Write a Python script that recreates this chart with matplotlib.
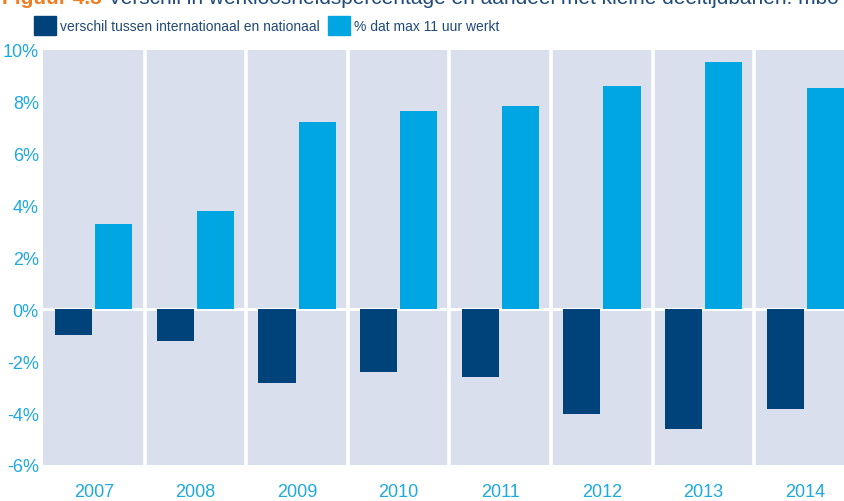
import matplotlib
matplotlib.use("Agg")
import matplotlib.pyplot as plt
from matplotlib.patches import Rectangle
import numpy as np

years = ["2007", "2008", "2009", "2010", "2011", "2012", "2013", "2014"]
verschil = [-1.0, -1.2, -2.83, -2.41, -2.60, -4.03, -4.6, -3.83]
max11 = [3.31, 3.8, 7.21, 7.63, 7.83, 8.6, 9.53, 8.52]
series_names = ["verschil tussen internationaal en nationaal", "% dat max 11 uur werkt"]
yticks = [-6, -4, -2, 0, 2, 4, 6, 8, 10]
title_num = "Figuur 4.3"
title_text = "Verschil in werkloosheidspercentage en aandeel met kleine deeltijdbanen: mbo"

DARK = "#00437A"
LIGHT = "#00A6E2"
BG = "#D9DFEC"
TICKC = "#1EA9E1"
TXT = "#1F4A7A"
ORANGE = "#F07D22"

FONT = ["Liberation Sans", "DejaVu Sans"]
plt.rcParams["font.family"] = FONT

W, H = 845, 502
fig = plt.figure(figsize=(W / 100, H / 100), dpi=100)
left, right, top, bottom = 43, 856, 51, 466
ax = fig.add_axes([left / W, 1 - bottom / H, (right - left) / W, (bottom - top) / H])
ax.set_facecolor(BG)

n = len(years)
x = np.arange(n) + 0.5
bw = 0.365
off = 0.197
ax.set_xlim(0, n)
ax.set_ylim(-6, 10)

for b in range(1, n):
    ax.axvline(b, color="white", lw=2.6, zorder=1)
ax.axhline(0, color="white", lw=2.2, zorder=1)

ax.bar(x - off, verschil, width=bw, color=DARK, zorder=2, label=series_names[0])
ax.bar(x + off, max11, width=bw, color=LIGHT, zorder=2, label=series_names[1])

for s in ax.spines.values():
    s.set_visible(False)
ax.set_yticks(yticks)
ax.set_yticklabels([f"{v}%" for v in yticks])
ax.set_xticks(x)
ax.set_xticklabels(years)
ax.tick_params(axis="y", length=0, pad=3, labelsize=13, labelcolor=TICKC)
ax.tick_params(axis="x", length=0, pad=13, labelsize=13, labelcolor=TICKC)

# legend (manual in figure coords)
def fx(px):
    return px / W

def fy(py):
    return 1 - py / H

fig.patches.append(Rectangle((fx(34), fy(36)), 22 / W, 19 / H, transform=fig.transFigure,
                             color=DARK, figure=fig))
fig.text(fx(60), fy(27), series_names[0], color=TXT, fontsize=10, va="center", ha="left")
fig.patches.append(Rectangle((fx(328), fy(36)), 22 / W, 19 / H, transform=fig.transFigure,
                             color=LIGHT, figure=fig))
fig.text(fx(354), fy(27), series_names[1], color=TXT, fontsize=10, va="center", ha="left")

# clipped title at the very top (cut off in the original as well)
fig.text(fx(2), fy(4), title_num, color=ORANGE, fontsize=15, fontweight="bold",
         va="baseline", ha="left")
fig.text(fx(108), fy(4), title_text, color=TXT, fontsize=15, va="baseline", ha="left")

fig.savefig("out.png", dpi=100)
